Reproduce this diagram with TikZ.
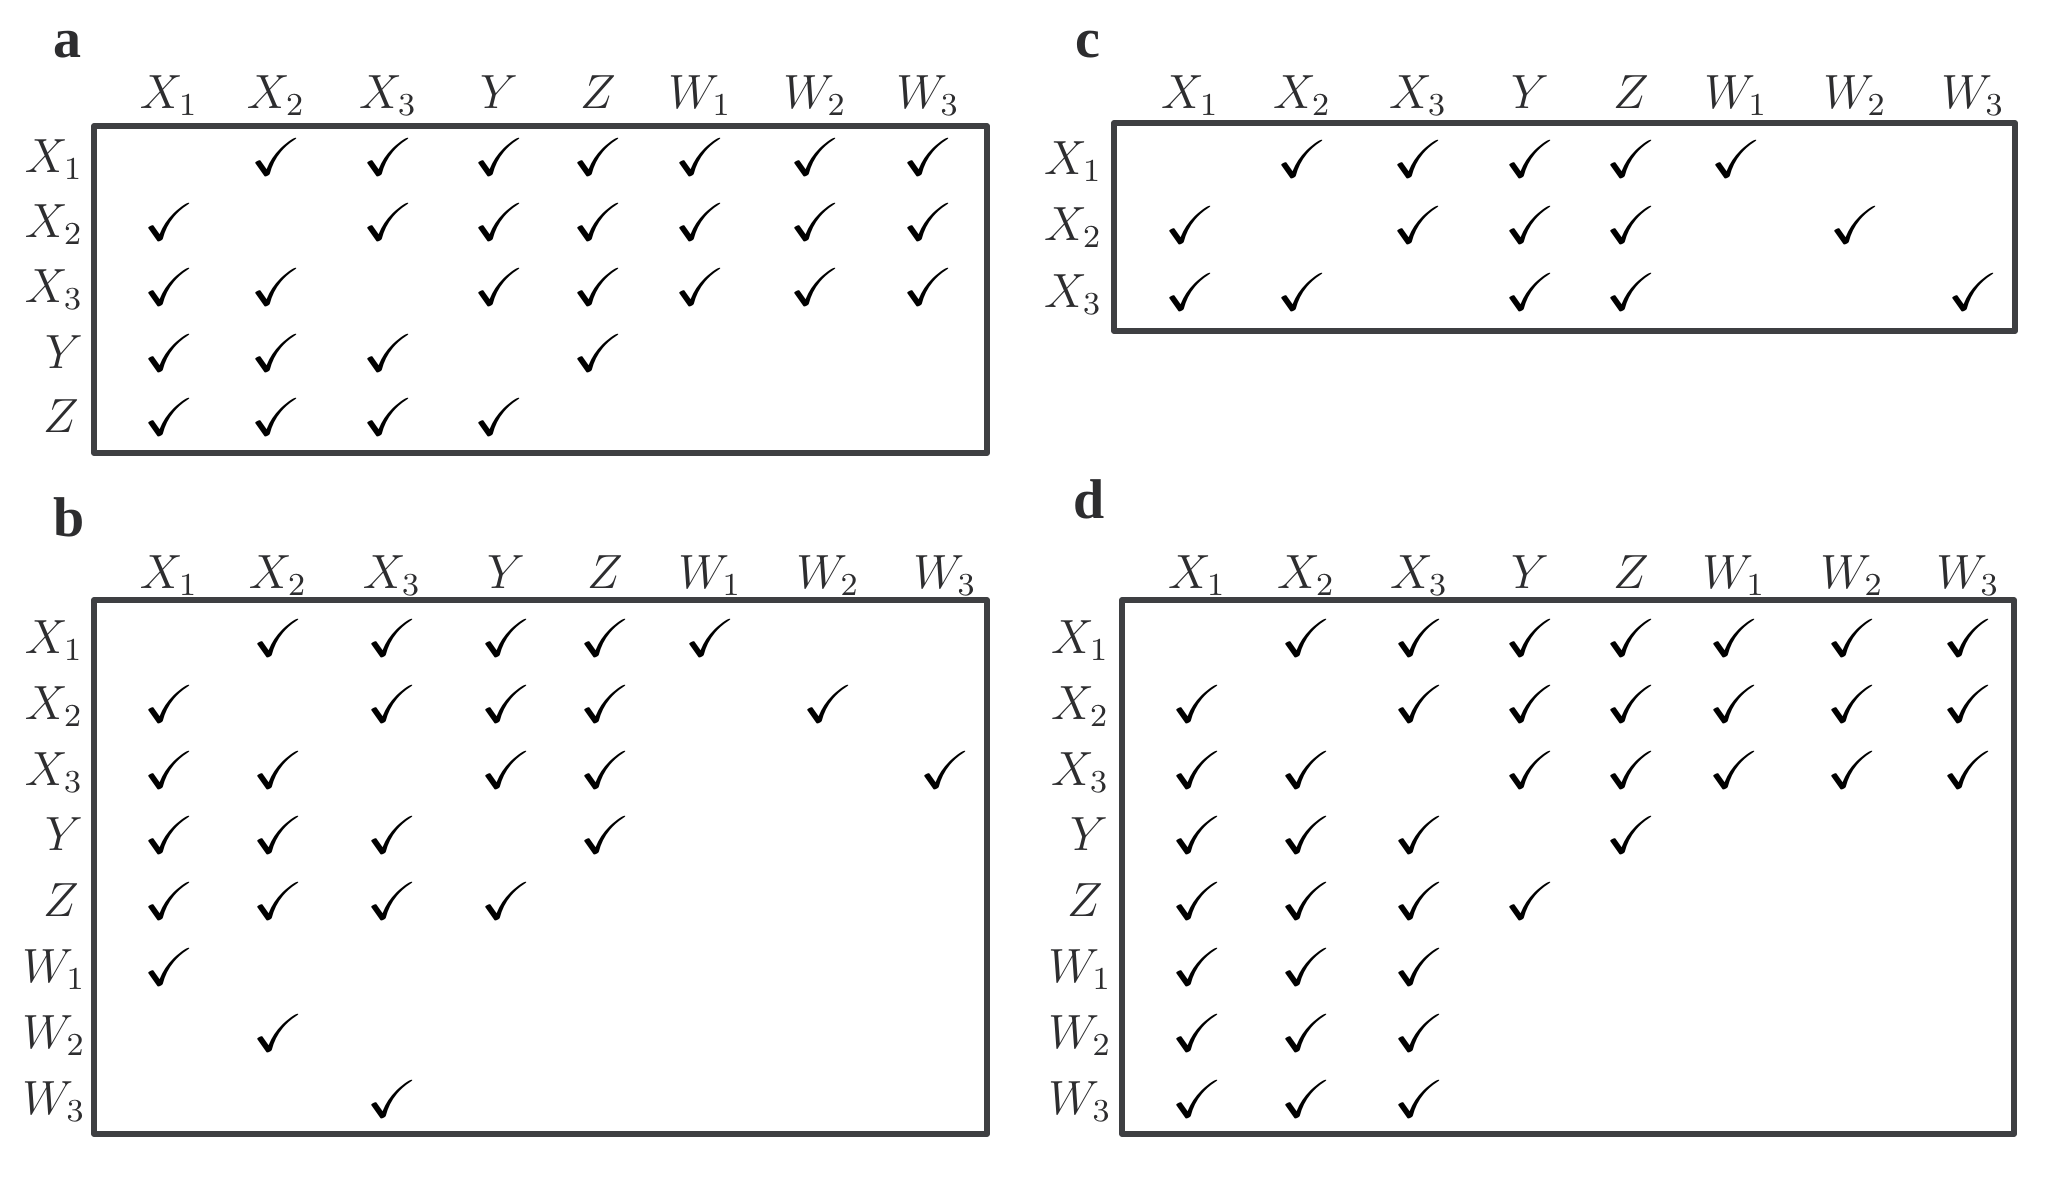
\documentclass[tikz,border=0pt]{standalone}
\usepackage{amssymb}
\usepackage{fontspec}
\newfontfamily\panelfont{Liberation Serif}
\usepackage{tikz}
\definecolor{framegray}{RGB}{62,63,66}
\definecolor{labelgray}{RGB}{45,45,47}

\begin{document}
\begin{tikzpicture}[x=0.25pt, y=-0.25pt,
  every node/.style = {
     inner sep=0pt, outer sep=0pt,
     font=\fontsize{11.9}{14}\selectfont},
  panellab/.style = {anchor=base west, text=labelgray,
     font=\panelfont\bfseries\fontsize{14}{16}\selectfont},
  head/.style = {anchor=base, text=labelgray},
  rowlab/.style = {anchor=base, text=labelgray},
  chk/.style = {anchor=base, yshift=-0.75pt},
  panelbox/.style = {draw=framegray, line width=1.5pt, line join=round}]
  \useasboundingbox (0,0) rectangle (2068,1202);
  \newcommand\tickmark{\scalebox{1.3}[1.12]{$\checkmark$}}

  % panel a
  \node[panellab] (pa) at (53,57) {a};
  \foreach \cx/\lab [count=\c] in {169/X_1,276/X_2,388/X_3,499/Y,598/Z,700/W_1,815/W_2,928/W_3}
    \node[head] (a-c\c) at (\cx,108) {$\lab$};
  \foreach \rx/\ry/\lab [count=\r] in {54/172/X_1,54/237/X_2,54/302/X_3,64/368/Y,61/432/Z}
    \node[rowlab] (a-r\r) at (\rx,\ry) {$\lab$};
  \draw[panelbox] (94,126) rectangle (987,453);
  \foreach \c/\r in {2/1,3/1,4/1,5/1,6/1,7/1,8/1,
                     1/2,3/2,4/2,5/2,6/2,7/2,8/2,
                     1/3,2/3,4/3,5/3,6/3,7/3,8/3,
                     1/4,2/4,3/4,5/4,
                     1/5,2/5,3/5,4/5}
    \node[chk] (a-t\r\c) at (a-c\c.base |- a-r\r.base) {\tickmark};

  % panel b
  \node[panellab] (pb) at (53,536) {b};
  \foreach \cx/\lab [count=\c] in {169/X_1,278/X_2,392/X_3,506/Y,605/Z,710/W_1,828/W_2,945/W_3}
    \node[head] (b-c\c) at (\cx,588) {$\lab$};
  \foreach \rx/\ry/\lab [count=\r] in {54/653/X_1,54/719/X_2,54/785/X_3,64/850/Y,61/916/Z,
                                       54/982/W_1,54/1048/W_2,54/1114/W_3}
    \node[rowlab] (b-r\r) at (\rx,\ry) {$\lab$};
  \draw[panelbox] (94,600) rectangle (987,1134);
  \foreach \c/\r in {2/1,3/1,4/1,5/1,6/1,
                     1/2,3/2,4/2,5/2,7/2,
                     1/3,2/3,4/3,5/3,8/3,
                     1/4,2/4,3/4,5/4,
                     1/5,2/5,3/5,4/5,
                     1/6,2/7,3/8}
    \node[chk] (b-t\r\c) at (b-c\c.base |- b-r\r.base) {\tickmark};

  % panel c
  \node[panellab] (pc) at (1075,57) {c};
  \foreach \cx/\lab [count=\c] in {1190/X_1,1302/X_2,1418/X_3,1530/Y,1631/Z,1736/W_1,1855/W_2,1973/W_3}
    \node[head] (c-c\c) at (\cx,108) {$\lab$};
  \foreach \rx/\ry/\lab [count=\r] in {1073/174/X_1,1073/240/X_2,1073/307/X_3}
    \node[rowlab] (c-r\r) at (\rx,\ry) {$\lab$};
  \draw[panelbox] (1114,123) rectangle (2015,331);
  \foreach \c/\r in {2/1,3/1,4/1,5/1,6/1,
                     1/2,3/2,4/2,5/2,7/2,
                     1/3,2/3,4/3,5/3,8/3}
    \node[chk] (c-t\r\c) at (c-c\c.base |- c-r\r.base) {\tickmark};

  % panel d
  \node[panellab] (pd) at (1073,518) {d};
  \foreach \cx/\lab [count=\c] in {1197/X_1,1306/X_2,1419/X_3,1530/Y,1631/Z,1734/W_1,1852/W_2,1968/W_3}
    \node[head] (d-c\c) at (\cx,588) {$\lab$};
  \foreach \rx/\ry/\lab [count=\r] in {1080/653/X_1,1080/719/X_2,1080/785/X_3,1089/850/Y,1085/916/Z,
                                       1080/982/W_1,1080/1048/W_2,1080/1114/W_3}
    \node[rowlab] (d-r\r) at (\rx,\ry) {$\lab$};
  \draw[panelbox] (1122,600) rectangle (2014,1134);
  \foreach \c/\r in {2/1,3/1,4/1,5/1,6/1,7/1,8/1,
                     1/2,3/2,4/2,5/2,6/2,7/2,8/2,
                     1/3,2/3,4/3,5/3,6/3,7/3,8/3,
                     1/4,2/4,3/4,5/4,
                     1/5,2/5,3/5,4/5,
                     1/6,2/6,3/6,
                     1/7,2/7,3/7,
                     1/8,2/8,3/8}
    \node[chk] (d-t\r\c) at (d-c\c.base |- d-r\r.base) {\tickmark};
\end{tikzpicture}
\end{document}
